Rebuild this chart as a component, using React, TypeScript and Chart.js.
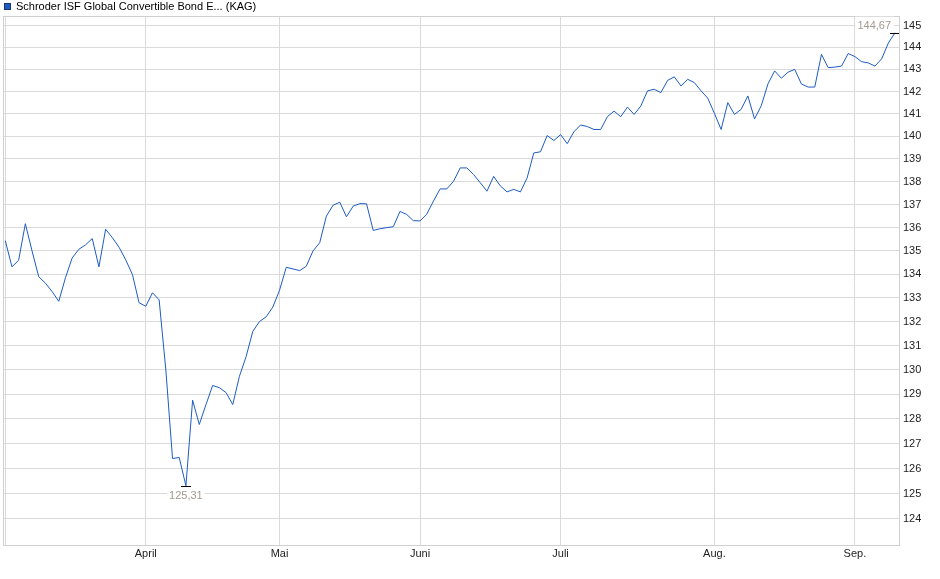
import React, { useRef, useEffect } from "react";
import { Chart, registerables } from "chart.js";

Chart.register(...registerables);

const seriesName = "Schroder ISF Global Convertible Bond E... (KAG)";

// one tick label per month start (first one, März, is not shown)
const monthLabels = ["", "April", "Mai", "Juni", "Juli", "Aug.", "Sep."];

// daily prices, one array per month (trading days only)
const march = [135.44, 134.32, 134.6, 136.17, 135.0, 133.9, 133.63, 133.27, 132.86, 133.86, 134.7, 135.07, 135.26, 135.53, 134.32, 135.93, 135.57, 135.16, 134.62, 134.0, 132.8];
const april = [132.65, 133.22, 132.92, 130.0, 126.4, 126.44, 125.31, 128.76, 127.77, 128.58, 129.36, 129.27, 129.07, 128.58, 129.74, 130.55, 131.6, 132.01, 132.21, 132.62];
const may = [133.33, 134.3, 134.23, 134.16, 134.35, 135.0, 135.35, 136.5, 136.97, 137.1, 136.47, 136.93, 137.04, 137.03, 135.88, 135.95, 136.0, 136.04, 136.7, 136.57, 136.3];
const june = [136.29, 136.58, 137.15, 137.68, 137.68, 138.01, 138.6, 138.6, 138.31, 137.95, 137.58, 138.23, 137.81, 137.55, 137.66, 137.55, 138.16, 139.26, 139.31, 140.03, 139.81];
const july = [140.07, 139.67, 140.2, 140.5, 140.43, 140.3, 140.3, 140.87, 141.12, 140.87, 141.3, 140.97, 141.35, 142.03, 142.1, 141.95, 142.5, 142.66, 142.25, 142.55, 142.4, 142.03, 141.7];
const august = [141.02, 140.3, 141.5, 140.97, 141.2, 141.8, 140.77, 141.36, 142.34, 142.93, 142.6, 142.87, 143.0, 142.34, 142.2, 142.2, 143.68, 143.08, 143.1, 143.15, 143.72];
const september = [143.58, 143.35, 143.29, 143.15, 143.48, 144.2, 144.67];

const priceTicks = [124, 125, 126, 127, 128, 129, 130, 131, 132, 133, 134, 135, 136, 137, 138, 139, 140, 141, 142, 143, 144, 145];

const monthValues = [march, april, may, june, july, august, september];
const values = monthValues.flat();
const monthStarts: number[] = [];
monthValues.reduce((acc, m) => {
  monthStarts.push(acc);
  return acc + m.length;
}, 0);

const FONT = '"Liberation Sans", Arial, sans-serif';
const LINE_COLOR = "#1d5bc4";
const GRID_COLOR = "#dadada";
const LABEL_COLOR = "#a39b92";

const fmt = (v: number) => v.toFixed(2).replace(".", ",");

const decorations = {
  id: "decorations",
  beforeDatasetsDraw(chart: any) {
    const { ctx, chartArea } = chart;
    ctx.save();
    ctx.strokeStyle = "#d0d0d0";
    ctx.lineWidth = 1;
    ctx.strokeRect(
      Math.round(chartArea.left) + 0.5,
      Math.round(chartArea.top) + 0.5,
      Math.round(chartArea.right - chartArea.left),
      Math.round(chartArea.bottom - chartArea.top)
    );
    ctx.restore();
  },
  afterDatasetsDraw(chart: any) {
    const { ctx } = chart;
    const meta = chart.getDatasetMeta(0);
    const minV = Math.min(...values);
    const maxV = Math.max(...values);
    const pMin = meta.data[values.indexOf(minV)];
    const pMax = meta.data[values.lastIndexOf(maxV)];
    ctx.save();
    ctx.font = `11px ${FONT}`;

    // min marker + label
    ctx.strokeStyle = "#000";
    ctx.lineWidth = 1;
    let y = Math.round(pMin.y) + 0.5;
    ctx.beginPath();
    ctx.moveTo(Math.round(pMin.x) - 5, y);
    ctx.lineTo(Math.round(pMin.x) + 5, y);
    ctx.stroke();
    const tMin = fmt(minV);
    const wMin = ctx.measureText(tMin).width;
    ctx.fillStyle = "#fff";
    ctx.fillRect(pMin.x - wMin / 2 - 2, pMin.y + 4, wMin + 4, 12);
    ctx.fillStyle = LABEL_COLOR;
    ctx.textAlign = "center";
    ctx.textBaseline = "top";
    ctx.fillText(tMin, pMin.x, pMin.y + 5);

    // max marker + label
    y = Math.round(pMax.y) + 0.5;
    ctx.beginPath();
    ctx.moveTo(Math.round(pMax.x) - 5, y);
    ctx.lineTo(Math.round(pMax.x) + 4, y);
    ctx.stroke();
    const tMax = fmt(maxV);
    const wMax = ctx.measureText(tMax).width;
    ctx.fillStyle = "#fff";
    ctx.fillRect(pMax.x - 4 - wMax - 2, pMax.y - 16, wMax + 5, 13);
    ctx.fillStyle = LABEL_COLOR;
    ctx.textAlign = "right";
    ctx.textBaseline = "alphabetic";
    ctx.fillText(tMax, pMax.x - 4, pMax.y - 4);

    // legend
    ctx.fillStyle = LINE_COLOR;
    ctx.fillRect(4, 3, 7, 7);
    ctx.strokeStyle = "#17356e";
    ctx.strokeRect(4.5, 3.5, 6, 6);
    ctx.fillStyle = "#000";
    ctx.textAlign = "left";
    ctx.fillText(seriesName, 16, 10);
    ctx.restore();
  },
};

const PriceChart = () => {
  const canvasRef = useRef<HTMLCanvasElement>(null);
  const chartRef = useRef<Chart | null>(null);

  useEffect(() => {
    document.body.style.margin = "0";
    document.body.style.overflow = "hidden";
    const canvas = canvasRef.current;
    if (!canvas) return;

    chartRef.current?.destroy();

    chartRef.current = new Chart(canvas, {
      type: "line",
      data: {
        datasets: [
          {
            label: seriesName,
            data: values.map((v, i) => ({ x: i, y: v })),
            borderColor: LINE_COLOR,
            borderWidth: 1,
            pointRadius: 0,
            tension: 0,
            fill: false,
          },
        ],
      },
      options: {
        responsive: false,
        animation: false,
        layout: { padding: { top: 16, left: 3, right: 0, bottom: 0 } },
        plugins: {
          legend: { display: false },
          tooltip: { enabled: false },
        },
        scales: {
          x: {
            type: "linear",
            min: -0.34,
            max: values.length - 0.41,
            afterBuildTicks: (axis: any) => {
              axis.ticks = monthStarts.map((v) => ({ value: v }));
            },
            afterFit: (axis: any) => {
              axis.height = 34;
            },
            grid: { color: GRID_COLOR, drawTicks: false },
            border: { display: false },
            ticks: {
              autoSkip: false,
              maxRotation: 0,
              padding: 2,
              color: "#222",
              font: { family: FONT, size: 11 },
              callback: (v: any) => {
                const i = monthStarts.indexOf(Number(v));
                return i >= 0 ? monthLabels[i] : "";
              },
            },
          },
          y: {
            type: "logarithmic",
            position: "right",
            min: 122.98,
            max: 145.44,
            afterBuildTicks: (axis: any) => {
              axis.ticks = priceTicks.map((v) => ({ value: v }));
            },
            afterFit: (axis: any) => {
              axis.width = 41;
            },
            grid: { color: GRID_COLOR, drawTicks: false },
            border: { display: false },
            ticks: {
              padding: 4,
              color: "#222",
              font: { family: FONT, size: 11 },
              callback: (v: any) => String(v),
            },
          },
        },
      },
      plugins: [decorations],
    });

    return () => {
      chartRef.current?.destroy();
    };
  }, []);

  return (
    <div style={{ width: 940, height: 579 }}>
      <canvas ref={canvasRef} width={940} height={579} style={{ display: "block" }} />
    </div>
  );
};

export default function App() {
  return <PriceChart />;
}
